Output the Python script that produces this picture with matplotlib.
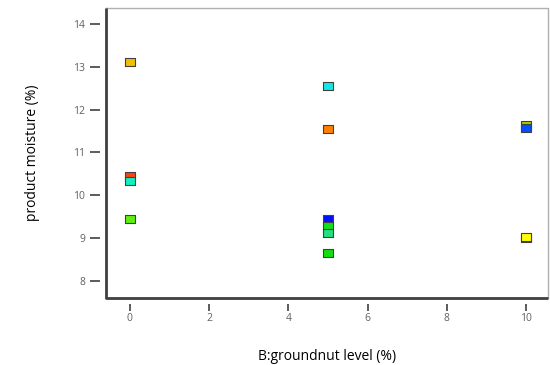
import matplotlib
matplotlib.use("Agg")
import matplotlib.pyplot as plt

# Groundnut level (%) and measured product moisture (%) per run
groundnut = [0, 0, 0, 0, 5, 5, 5, 5, 5, 5, 10, 10, 10, 10]
moisture = [13.1, 10.45, 10.33, 9.45, 12.55, 11.55, 9.45, 9.28, 9.12, 8.65,
            11.63, 11.58, 8.99, 9.03]
colors = ["#f0c000", "#ff4010", "#10f0c0", "#60f010", "#10e8e8", "#ff8000",
          "#0010ff", "#10e020", "#20e080", "#10e010",
          "#a0d000", "#0050ff", "#90c020", "#ffff00"]

x_ticks = [0, 2, 4, 6, 8, 10]
y_ticks = [8, 9, 10, 11, 12, 13, 14]

plt.rcParams["font.family"] = ["Open Sans", "DejaVu Sans"]

fig = plt.figure(figsize=(5.5, 3.65), dpi=100)
ax = fig.add_axes([106 / 550, 1 - 298 / 365, 442 / 550, 290 / 365])

rect = [(-1, -0.7), (1, -0.7), (1, 0.7), (-1, 0.7), (-1, -0.7)]
for x, y, c in zip(groundnut, moisture, colors):
    ax.scatter(x, y, marker=rect, s=55, color=c, edgecolors="#404040",
               linewidths=0.8, zorder=3)

ax.set_xlim(-0.6, 10.55)
ax.set_ylim(7.6, 14.37)
ax.set_xticks(x_ticks)
ax.set_yticks(y_ticks)

# ticks sit a little away from the frame
for side in ("left", "bottom"):
    ax.spines[side].set_position(("outward", 4))
    ax.spines[side].set_visible(False)
for side in ("top", "right"):
    ax.spines[side].set_visible(False)
ax.plot([0, 0, 1, 1, 0], [1, 0, 0, 1, 1], transform=ax.transAxes,
        color="#b0b0b0", lw=1.0, clip_on=False)
ax.plot([0, 0, 1], [1, 0, 0], transform=ax.transAxes,
        color="#404040", lw=2.0, clip_on=False, solid_capstyle="butt")

ax.tick_params(direction="out", width=1.2, color="#404040",
               labelsize=7.5, labelcolor="#606060")
ax.tick_params(axis="y", length=7, pad=4)
ax.tick_params(axis="x", length=5, pad=2)

ax.set_xlabel("B:groundnut level (%)", fontsize=10, labelpad=18)
ax.set_ylabel("product moisture (%)", fontsize=10, labelpad=24)

fig.savefig("out.png", dpi=100)
